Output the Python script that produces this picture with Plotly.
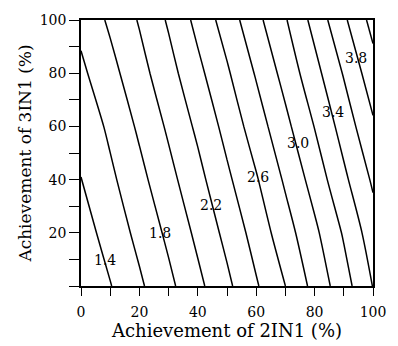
import plotly.graph_objects as go

# Grid (percent achievement)
x_2in1 = [0, 10, 20, 30, 40, 50, 60, 70, 80, 90, 100]
y_3in1 = [0, 20, 40, 60, 80, 100]

# Estimated response values, one row per y value
z_y0 = [1.214, 1.391, 1.568, 1.752, 1.951, 2.157, 2.380, 2.600, 2.864, 3.118, 3.406]
z_y20 = [1.310, 1.480, 1.654, 1.842, 2.045, 2.255, 2.479, 2.715, 2.958, 3.221, 3.508]
z_y40 = [1.397, 1.559, 1.742, 1.938, 2.139, 2.361, 2.582, 2.829, 3.080, 3.357, 3.630]
z_y60 = [1.460, 1.640, 1.833, 2.031, 2.239, 2.465, 2.700, 2.948, 3.206, 3.482, 3.770]
z_y80 = [1.560, 1.736, 1.928, 2.127, 2.347, 2.573, 2.818, 3.070, 3.333, 3.615, 3.915]
z_y100 = [1.655, 1.833, 2.016, 2.224, 2.457, 2.690, 2.943, 3.184, 3.465, 3.764, 4.067]

# Contour label positions and texts
label_text = ["1.4", "1.8", "2.2", "2.6", "3.0", "3.4", "3.8"]
label_x = [8.1, 27.2, 44.5, 60.5, 74.2, 86.3, 94.1]
label_y = [9.8, 19.9, 30.4, 41.0, 53.6, 65.5, 85.6]

# Tick labels
x_tickvals = [0, 10, 20, 30, 40, 50, 60, 70, 80, 90, 100]
x_ticktext = ["0", "", "20", "", "40", "", "60", "", "80", "", "100"]
y_tickvals = [0, 10, 20, 30, 40, 50, 60, 70, 80, 90, 100]
y_ticktext = ["", "", "20", "", "40", "", "60", "", "80", "", "100"]

FONT = "DejaVu Serif"

fig = go.Figure()
fig.add_trace(go.Contour(
    x=x_2in1, y=y_3in1,
    z=[z_y0, z_y20, z_y40, z_y60, z_y80, z_y100],
    contours=dict(start=1.4, end=4.0, size=0.2, coloring="lines", showlabels=False),
    colorscale=[[0, "black"], [1, "black"]],
    showscale=False,
    line=dict(width=1.5, smoothing=0.8),
    hoverinfo="skip",
))

for t, lx, ly in zip(label_text, label_x, label_y):
    fig.add_annotation(x=lx, y=ly, text=t, showarrow=False,
                       font=dict(family=FONT, size=14, color="black"))

axis_common = dict(
    range=[0, 100], showgrid=False, zeroline=False,
    showline=True, linecolor="black", linewidth=1.6, mirror=True,
    ticks="outside", tickcolor="black", tickwidth=1.4,
    tickfont=dict(family=FONT, size=14, color="black"),
    tickmode="array",
)

fig.update_xaxes(**axis_common, tickvals=x_tickvals, ticktext=x_ticktext, ticklen=8,
                 ticklabelstandoff=4,
                 title=dict(text="Achievement of 2IN1 (%)",
                            font=dict(family=FONT, size=18, color="black"), standoff=2))
fig.update_yaxes(**axis_common, tickvals=y_tickvals, ticktext=y_ticktext, ticklen=10,
                 title=dict(text="Achievement of 3IN1 (%)",
                            font=dict(family=FONT, size=17, color="black"), standoff=4))

fig.update_layout(
    width=398, height=346,
    margin=dict(l=81, r=14, t=13, b=59),
    paper_bgcolor="white", plot_bgcolor="white",
    showlegend=False,
)

fig.write_html("out.html", config={"displayModeBar": False})
